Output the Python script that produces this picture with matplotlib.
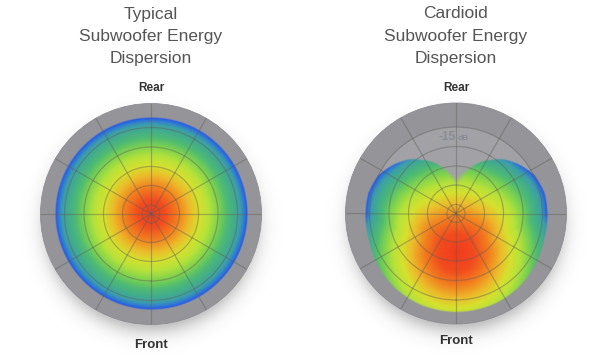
import numpy as np
import matplotlib
matplotlib.use("Agg")
import matplotlib.pyplot as plt
from matplotlib.colors import LinearSegmentedColormap
from matplotlib.patches import Circle

# ---------------- data ----------------
titles_typical = ["Typical", "Subwoofer Energy", "Dispersion"]
titles_cardioid = ["Cardioid", "Subwoofer Energy", "Dispersion"]
label_rear = "Rear"
label_front = "Front"
level_value = "-15"
level_unit = "dB"
level_label_radius = 76

# grid of the polar plot (radial units of the plot)
ring_radii = [9, 28.5, 47.5, 67, 86.5]
spoke_angles = list(range(0, 360, 30))
plot_radius = 110.5
inner_plate_radius = 86.5

# typical sub: omnidirectional -> circular coverage
typical_radius = 96.0

# cardioid sub: outline of coverage (angle from Front in degrees, radius)
cardioid_angle = [0, 23, 40, 57, 73, 90, 103, 116, 129, 140, 147, 155, 162, 170, 180]
cardioid_radius = [98.5, 98, 96.5, 94, 91.5, 91, 90.5, 87, 79, 71, 64, 57, 49, 40, 31]
cardioid_peak_offset = 40.0   # loudest spot in front of the sub
cardioid_falloff = 99.0       # minimum distance scale from the loudest spot

# energy colour scale (position, colour)
energy_pos = [0.00, 0.14, 0.28, 0.40, 0.50, 0.60, 0.70, 0.79, 0.87, 0.93, 0.965, 1.00]
energy_col = ["#f03c1e", "#f24c1e", "#f2801f", "#ecba2a", "#d6e02e", "#b6e23a",
              "#7ed24e", "#4fbb72", "#42ac8c", "#3c9eaa", "#3280cc", "#2458ea"]

# ---------------- figure ----------------
W, H = 606, 362
fig = plt.figure(figsize=(W / 100, H / 100), dpi=100)
fig.patch.set_facecolor("white")
ax0 = fig.add_axes([0, 0, 1, 1])
ax0.set_xlim(0, W)
ax0.set_ylim(H, 0)
ax0.axis("off")

cmap = LinearSegmentedColormap.from_list("energy", list(zip(energy_pos, energy_col)))

TITLE_FONT = ["Liberation Sans", "DejaVu Sans"]


def clip01(x):
    return np.clip(x, 0, 1)


def draw_panel(cx, cy, titles, kind, front_y):
    R = plot_radius
    # drop shadow
    pad = 45
    xs = np.arange(cx - R - pad, cx + R + pad, 1.0) + 0.5
    ys = np.arange(cy - R - pad, cy + R + pad, 1.0) + 0.5
    X, Y = np.meshgrid(xs, ys)
    d = np.hypot(X - cx, Y - (cy + 11))
    a = 1.0 / (1.0 + np.exp((d - (R - 5)) / 5.5))
    sh = np.zeros(X.shape + (4,))
    sh[..., :3] = 0.22
    sh[..., 3] = 0.42 * a
    ax0.imshow(sh, extent=[xs[0] - 0.5, xs[-1] + 0.5, ys[-1] + 0.5, ys[0] - 0.5],
               interpolation="bilinear", zorder=1)

    ax0.add_patch(Circle((cx, cy), R, fc="#959599", ec="#8e8e92", lw=0.6, zorder=2))
    ax0.add_patch(Circle((cx, cy), inner_plate_radius, fc="#a2a2a6", ec="none", zorder=2))

    # energy field
    n = 900
    g = np.linspace(-R, R, n)
    DX, DY = np.meshgrid(g, g)          # DY positive = towards Front (down)
    r = np.hypot(DX, DY)
    th = np.degrees(np.arctan2(np.abs(DX), DY))  # 0 = front, 180 = rear
    if kind == "typical":
        val = r / typical_radius
        alpha = clip01((typical_radius - r) / 1.2 + 0.5)
    else:
        rb = np.interp(th, cardioid_angle, cardioid_radius)
        soft = 1.4 + 10.0 * np.exp(-((180 - th) / 14.0) ** 2)
        alpha = clip01((rb - r) / soft + 0.5)
        # distance from the loud spot to the outline, by direction
        fine = np.linspace(0, 180, 721)
        rbf = np.interp(fine, cardioid_angle, cardioid_radius)
        bx = rbf * np.sin(np.radians(fine))
        by = rbf * np.cos(np.radians(fine)) - cardioid_peak_offset
        phi_b = np.degrees(np.arctan2(bx, by))
        dist_b = np.hypot(bx, by)
        order = np.argsort(phi_b)
        phi_b, dist_b = phi_b[order], dist_b[order]
        dist_env = np.maximum(np.maximum.accumulate(dist_b), cardioid_falloff)
        px = np.abs(DX)
        py = DY - cardioid_peak_offset
        phi = np.degrees(np.arctan2(px, py))
        denv = np.interp(phi, phi_b, dist_env)
        val = (np.hypot(px, py) / denv) ** 1.15
    rgba = cmap(clip01(val))
    rgba[..., 3] = alpha * (r <= R)
    ax0.imshow(rgba, extent=[cx - R, cx + R, cy + R, cy - R],
               interpolation="bilinear", zorder=3)

    # polar grid on top
    pos = [(cx - R) / W, 1 - (cy + R) / H, 2 * R / W, 2 * R / H]
    pax = fig.add_axes(pos, projection="polar")
    pax.set_facecolor("none")
    pax.set_theta_zero_location("S")
    pax.set_ylim(0, R)
    pax.set_rgrids(ring_radii, labels=[""] * len(ring_radii))
    pax.set_thetagrids(spoke_angles, labels=[""] * len(spoke_angles))
    pax.grid(True, color="#5e5e58", alpha=0.42, lw=0.9)
    pax.spines["polar"].set_visible(False)
    pax.tick_params(length=0, pad=0)

    if kind == "cardioid":
        pax.text(np.pi, level_label_radius, level_value, ha="right", va="center",
                 fontsize=8.5, fontweight="bold", color="#8a8c96",
                 family=TITLE_FONT)
        pax.annotate(level_unit, xy=(np.pi, level_label_radius), xytext=(1.5, -0.5),
                     textcoords="offset points", ha="left", va="center",
                     fontsize=6, fontweight="bold", color="#8a8c96",
                     family=TITLE_FONT)

    # texts
    for t, y in zip(titles, [14, 36, 58]):
        ax0.text(cx, y, t, ha="center", va="center", fontsize=12.5,
                 color="#555555", family=TITLE_FONT)
    ax0.text(cx, 88, label_rear, ha="center", va="center", fontsize=8.5,
             fontweight="bold", color="#333333", family=TITLE_FONT)
    ax0.text(cx, front_y, label_front, ha="center", va="center", fontsize=9.5,
             fontweight="bold", color="#333333", family=TITLE_FONT)


draw_panel(151, 214, titles_typical, "typical", 345)
draw_panel(456, 213.5, titles_cardioid, "cardioid", 341)

fig.savefig("out.png", dpi=100, facecolor="white")
